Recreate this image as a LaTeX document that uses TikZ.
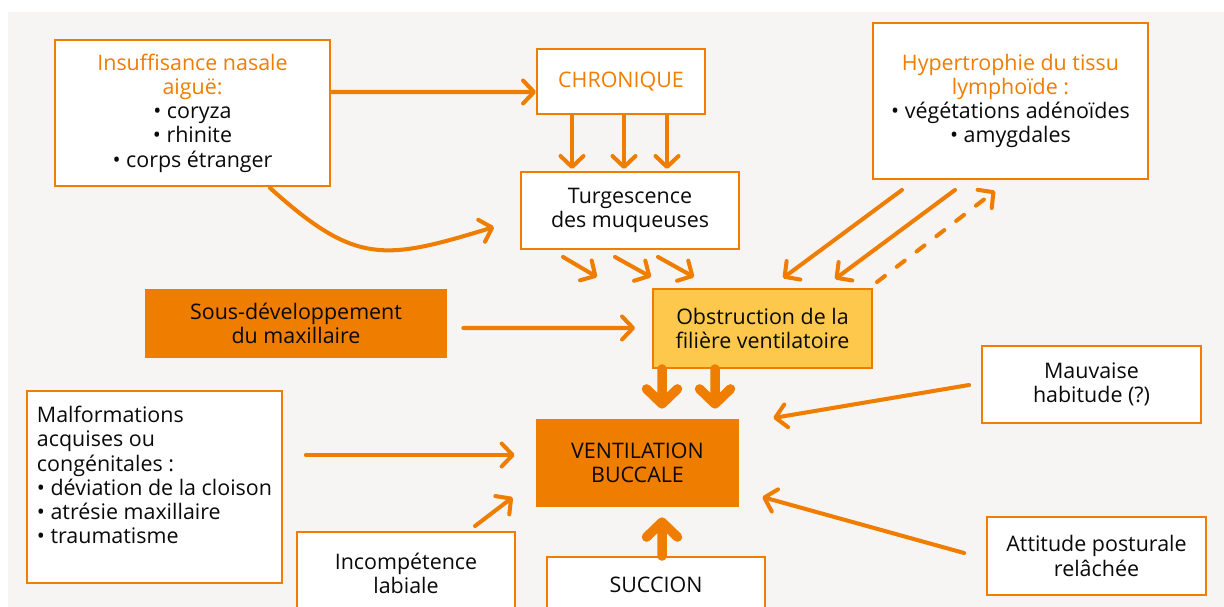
\documentclass[tikz,border=0pt]{standalone}
\usepackage{fontspec}
\setmainfont{Open Sans}
\usepackage{tikz}
\usetikzlibrary{arrows.meta, calc}
\definecolor{Orange}{RGB}{239,125,0}
\definecolor{PaleYellow}{RGB}{253,200,76}
\definecolor{BackGrey}{RGB}{246,245,243}
\definecolor{TextBlack}{RGB}{10,10,10}

\begin{document}
\begin{tikzpicture}[x=0.02cm, y=0.02cm,
		>={Straight Barb[length=0.22cm, width=0.46cm, round]},
		every node/.style={font=\fontsize{12.2}{13.8}\selectfont, text=TextBlack, align=center, inner sep=0pt},
		box/.style={draw=Orange, line width=1.1pt, fill=white},
		arr/.style={->, draw=Orange, line width=2.3pt, line cap=round},
		bigarr/.style={-{Straight Barb[length=0.3cm, width=0.62cm, round]}, draw=Orange, line width=5.4pt, line cap=round}]
		
		% background
		\useasboundingbox (0,0) rectangle (1224,-607);
		\clip (0,0) rectangle (1224,-607);
		\fill[white] (0,0) rectangle (1224,-607);
		\fill[BackGrey] (8,-12) rectangle (1224,-607);
		
		% boxes
		\node[box, minimum width=5.5cm, minimum height=2.92cm] (insuf) at (192.5,-113) {\textcolor{Orange}{Insuffisance nasale}\\\textcolor{Orange}{aiguë:}\\• coryza\\• rhinite\\• corps étranger};
		\node[box, minimum width=3.36cm, minimum height=1.3cm] (chron) at (621,-81.5) {\textcolor{Orange}{CHRONIQUE}};
		\node[box, minimum width=4.36cm, minimum height=1.54cm] (turg) at (630,-210.5) {Turgescence\\des muqueuses};
		\node[box, minimum width=5.5cm, minimum height=3.12cm] (hyper) at (1010.5,-101) {\textcolor{Orange}{Hypertrophie du tissu}\\\textcolor{Orange}{lymphoïde :}\\• végétations adénoïdes\\• amygdales};
		\node[fill=Orange, minimum width=6.04cm, minimum height=1.38cm] (sousdev) at (296,-323.5) {Sous-développement\\du maxillaire};
		\node[box, fill=PaleYellow, minimum width=4.38cm, minimum height=1.58cm] (obstr) at (762.5,-328.5) {Obstruction de la\\filière ventilatoire};
		\node[box, minimum width=5.1cm, minimum height=3.84cm, text depth=0.48cm, align=left] (malf) at (154.5,-487) {Malformations\\acquises ou\\congénitales :\\• déviation de la cloison\\• atrésie maxillaire\\• traumatisme};
		\node[fill=Orange, minimum width=4.06cm, minimum height=1.76cm] (ventil) at (637.5,-463) {VENTILATION\\BUCCALE};
		\node[box, minimum width=4.36cm, minimum height=1.66cm] (incomp) at (406,-573.5) {Incompétence\\labiale};
		\node[box, minimum width=4.36cm, minimum height=1.12cm] (succion) at (656,-585) {SUCCION};
		\node[box, minimum width=4.38cm, minimum height=1.54cm] (mauv) at (1091.5,-384.5) {Mauvaise\\habitude (?)};
		\node[box, minimum width=4.38cm, minimum height=1.56cm] (attit) at (1096.5,-556) {Attitude posturale\\relâchée};
		
		% arrows top part
		\draw[arr] ($(insuf.east)+(0,21)$) -- ($(chron.west)+(0,-10.5)$);
		\draw[arr] ($(insuf.south)+(77.5,-1)$) to[out=-42, in=197, looseness=1.3] ($(turg.west)+(-26,-16.5)$);
		\foreach \dx in {-49,3,46}
			\draw[arr] ($(chron.south)+(\dx,0)$) -- ($(turg.north)+(\dx-9,2)$);
		\foreach \s/\e in {-67/-55,-15/-1,28/42}
			\draw[arr] ($(turg.south)+(\s,-7)$) -- ($(obstr.north west)+(\e,11)$);
		\draw[arr] ($(hyper.south)+(-108.5,-10)$) -- ($(obstr.north)+(20.5,10)$);
		\draw[arr] ($(hyper.south)+(-55.5,-10)$) -- ($(obstr.north)+(72.5,9)$);
		\draw[arr, dash pattern=on 0.2cm off 0.3cm] ($(obstr.north)+(114.5,6)$) -- ($(hyper.south)+(-15.5,-11)$);
		\draw[arr] ($(sousdev.east)+(16,-4.5)$) -- ($(obstr.west)+(-17,0.5)$);
		
		% arrows into ventilation buccale
		\draw[bigarr] ($(obstr.south)+(-100.5,0)$) -- ($(ventil.north)+(24.5,10)$);
		\draw[bigarr] ($(obstr.south)+(-47.5,0)$) -- ($(ventil.north)+(77.5,10)$);
		\draw[bigarr] ($(succion.north)+(6,0)$) -- ($(ventil.south)+(24.5,-10)$);
		\draw[arr] ($(mauv.west)+(-12,-0.5)$) -- ($(ventil.east)+(34,45)$);
		\draw[arr] ($(attit.west)+(-22,3)$) -- ($(ventil.east)+(23,-34)$);
		\draw[arr] ($(malf.east)+(23,32)$) -- ($(ventil.west)+(-21,8)$);
		\draw[arr] ($(incomp.north)+(69,5)$) -- ($(ventil.south west)+(-23,10)$);
		
	\end{tikzpicture}
\end{document}
